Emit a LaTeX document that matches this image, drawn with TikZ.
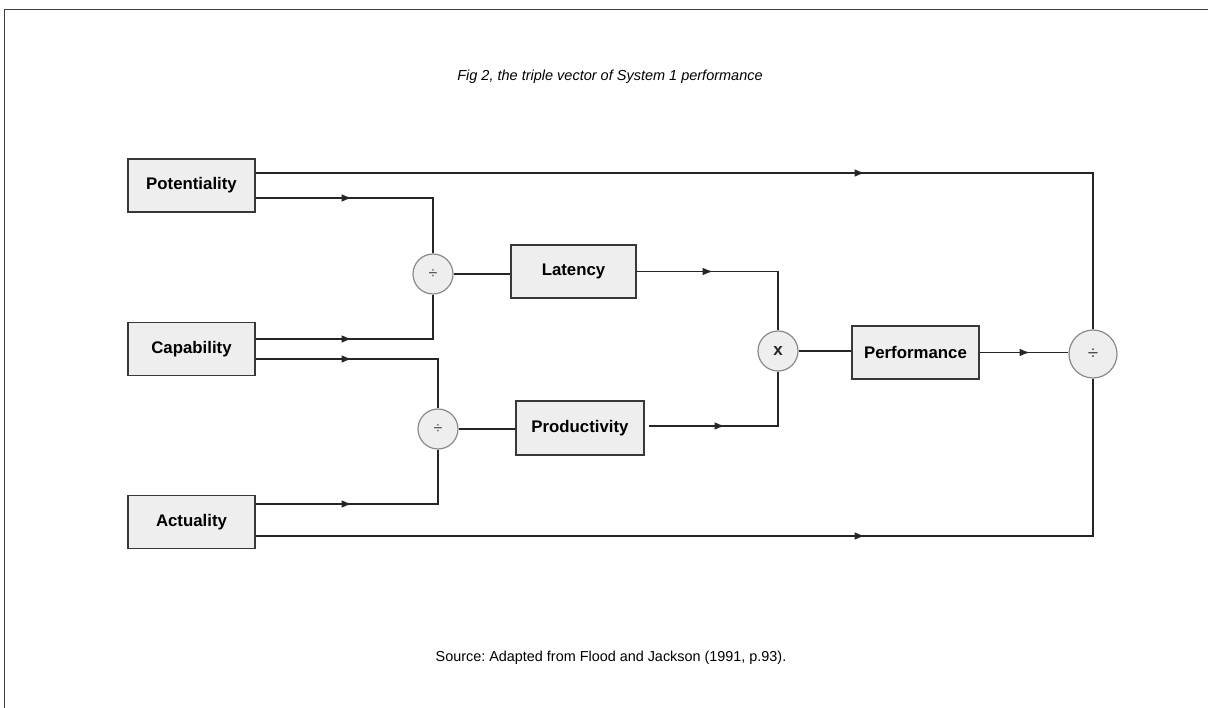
\documentclass[tikz,border=0pt]{standalone}
\usepackage{fontspec}
\setmainfont{Liberation Sans}
\usetikzlibrary{arrows.meta,decorations.markings}
\definecolor{boxfill}{HTML}{EEEEEE}
\definecolor{boxline}{HTML}{383838}
\definecolor{circline}{HTML}{8A8A8A}
\definecolor{wire}{HTML}{262626}
\tikzset{
  blockbox/.style={draw=boxline, fill=boxfill, line width=1.4pt, minimum width=127pt, minimum height=53pt, inner sep=0pt, font=\fontsize{16.8}{19}\selectfont\bfseries},
  opcirc/.style={circle, draw=circline, fill=boxfill, line width=1.2pt, minimum size=40pt, inner sep=0pt, text=black!70, font=\fontsize{16}{18}\selectfont},
  wireline/.style={draw=wire, line width=1.2pt},
  arrowat/.style={postaction={decorate}, decoration={markings, mark=at position #1 with {\arrow{Latex[length=10pt,width=7.5pt]}}}},
}
\frenchspacing
\begin{document}
\begin{tikzpicture}[x=1pt,y=-1pt]
\useasboundingbox (0,0) rectangle (1208,708);
% frame
\draw[draw=black!75, line width=1.3pt] (1208,9.5) -- (4.5,9.5) -- (4.5,708);
% texts
\node[font=\fontsize{14.5}{17}\selectfont\itshape] (title) at (610,77) {Fig 2, the triple vector of System 1 performance};
\node[font=\fontsize{14.4}{17}\selectfont] (source) at (611,658) {Source: Adapted from Flood and Jackson (1991, p.93).};
% blocks
\node[blockbox] (pot) at (191.5,185.5) {Potentiality};
\node[blockbox] (cap) at (191.5,349) {Capability};
\node[blockbox] (act) at (191.5,522) {Actuality};
\node[blockbox, minimum width=125pt] (lat) at (573.5,271.5) {Latency};
\node[blockbox, minimum width=128pt, minimum height=54pt] (prod) at (580,428) {Productivity};
\node[blockbox] (perf) at (915.5,352.5) {Performance};
% operators
\node[opcirc] (d1) at (433,274) {÷};
\node[opcirc] (d2) at (438,429) {÷};
\node[opcirc, font=\fontsize{17}{19}\selectfont\bfseries, text=black!85] (mult) at (778,351) {x};
\node[opcirc, minimum size=48pt, font=\fontsize{19}{21}\selectfont] (d3) at (1093,354) {÷};
% connectors
\draw[wireline, arrowat=609pt] ([yshift=12.5pt]pot.east) -| (d3.north);
\draw[wireline, arrowat=96pt] ([yshift=-12.5pt]pot.east) -| (d1.north);
\draw[wireline, arrowat=96pt] ([yshift=10pt]cap.east) -| (d1.south);
\draw[wireline, arrowat=96pt] ([yshift=-10pt]cap.east) -| (d2.north);
\draw[wireline, arrowat=96pt] ([yshift=18pt]act.east) -| (d2.south);
\draw[wireline, arrowat=609pt] ([yshift=-14pt]act.east) -| (d3.south);
\draw[wireline] (d1.east) -- (d1.east -| lat.west);
\draw[wireline] (d2.east) -- (d2.east -| prod.west);
\draw[wireline, arrowat=76pt] (lat.east) -| (mult.north);
\draw[wireline, arrowat=76pt] ([xshift=4pt,yshift=2pt]prod.east) -| (mult.south);
\draw[wireline] (mult.east) -- (mult.east -| perf.west);
\draw[wireline, arrowat=50pt] (perf.east) -- (perf.east -| d3.west);
\end{tikzpicture}
\end{document}
